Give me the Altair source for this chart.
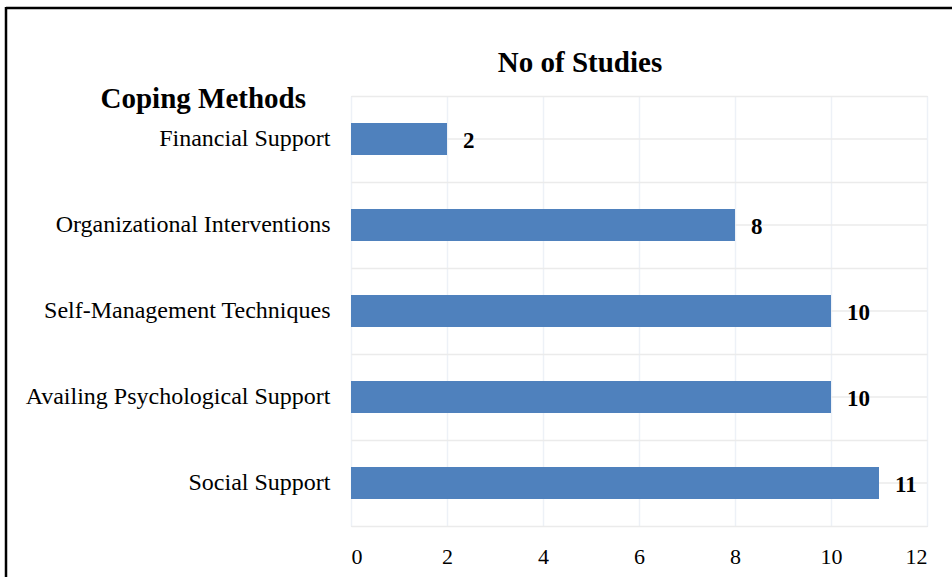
import altair as alt
import pandas as pd

categories = [
    "Financial Support",
    "Organizational Interventions",
    "Self-Management Techniques",
    "Availing Psychological Support",
    "Social Support",
]
studies = [2, 8, 10, 10, 11]
x_ticks = [0, 2, 4, 6, 8, 10, 12]
chart_title = "No of Studies"
axis_title = "Coping Methods"

df = pd.DataFrame({"method": categories, "n": studies})

FONT = "Liberation Serif"
BLUE = "#4F81BD"
HGRID = "#EBEBEB"
VGRID = "#EDF1F7"

W, H = 576, 430
PAD = {"left": 351, "top": 96, "right": 952 - 351 - W, "bottom": 577 - 96 - H}

y_enc = alt.Y(
    "method:N",
    sort=categories,
    scale=alt.Scale(paddingInner=0, paddingOuter=0),
    axis=alt.Axis(
        title=axis_title,
        titleAngle=0,
        titleAlign="left",
        titleBaseline="alphabetic",
        titleX=-251,
        titleY=11,
        titleFont=FONT,
        titleFontSize=29,
        titleFontWeight="bold",
        titleColor="black",
        labelFont=FONT,
        labelFontSize=24,
        labelColor="black",
        labelPadding=21,
        labelLimit=400,
        ticks=False,
        domain=False,
        grid=True,
        gridColor=HGRID,
        gridWidth=1.5,
        bandPosition=0,
    ),
)

x_enc = alt.X(
    "n:Q",
    scale=alt.Scale(domain=[0, 12], nice=False),
    axis=alt.Axis(
        title=None,
        values=x_ticks,
        labelFont=FONT,
        labelFontSize=22,
        labelColor="black",
        labelPadding=20,
        ticks=False,
        domain=True,
        domainColor=HGRID,
        domainWidth=1.5,
        grid=True,
        gridColor=VGRID,
        gridWidth=1.5,
    ),
)

center_rules = (
    alt.Chart(df)
    .mark_rule(color=HGRID, strokeWidth=1.5)
    .encode(y=alt.Y("method:N", sort=categories))
)

bars = (
    alt.Chart(df)
    .mark_bar(color=BLUE, height=alt.RelativeBandSize(0.372))
    .encode(x=x_enc, y=y_enc)
)

labels = (
    alt.Chart(df)
    .mark_text(
        align="left",
        baseline="middle",
        dx=16,
        dy=2,
        font=FONT,
        fontSize=23,
        fontWeight="bold",
        color="black",
    )
    .encode(x="n:Q", y=alt.Y("method:N", sort=categories), text="n:Q")
)

single = alt.Data(values=[{"t": chart_title}])
title_text = (
    alt.Chart(single)
    .mark_text(
        align="center",
        baseline="alphabetic",
        font=FONT,
        fontSize=29,
        fontWeight="bold",
        color="black",
    )
    .encode(x=alt.value(229), y=alt.value(-24), text="t:N")
)

frame_top = (
    alt.Chart(single)
    .mark_rule(color="black", strokeWidth=2.5)
    .encode(x=alt.value(-345), x2=alt.value(W + 40), y=alt.value(-88))
)
frame_left = (
    alt.Chart(single)
    .mark_rule(color="black", strokeWidth=2.5)
    .encode(x=alt.value(-345), y=alt.value(-89), y2=alt.value(H + 80))
)

chart = (
    alt.layer(center_rules, bars, labels, title_text, frame_top, frame_left)
    .properties(
        width=W,
        height=H,
        padding=PAD,
        autosize=alt.AutoSizeParams(type="none"),
    )
    .configure_view(stroke=None)
    .configure(background="white")
)

chart.save("out.html", embed_options={"renderer": "svg", "actions": False})
